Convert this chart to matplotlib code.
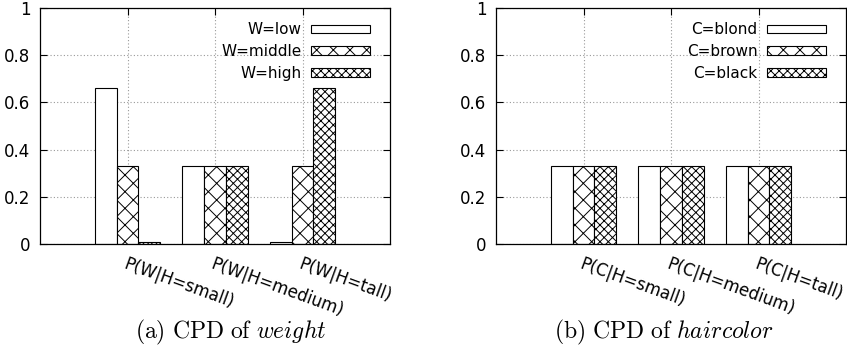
import numpy as np
import matplotlib.pyplot as plt

plt.rcParams['font.family'] = 'DejaVu Sans'
plt.rcParams['mathtext.fontset'] = 'cm'
plt.rcParams['hatch.linewidth'] = 0.7

# data
w_groups = ['P(W|H=small)', 'P(W|H=medium)', 'P(W|H=tall)']
w_labels = ['W=low', 'W=middle', 'W=high']
w_low = [0.66, 0.33, 0.01]
w_middle = [0.33, 0.33, 0.33]
w_high = [0.01, 0.33, 0.66]

c_groups = ['P(C|H=small)', 'P(C|H=medium)', 'P(C|H=tall)']
c_labels = ['C=blond', 'C=brown', 'C=black']
c_blond = [0.33, 0.33, 0.33]
c_brown = [0.33, 0.33, 0.33]
c_black = [0.33, 0.33, 0.33]

yticks = [0, 0.2, 0.4, 0.6, 0.8, 1]
ytick_labels = ['0', '0.2', '0.4', '0.6', '0.8', '1']

hatches = ['', 'xx', 'xxxx']


def draw_panel(ax, groups, labels, series):
    x = np.arange(len(groups))
    width = 0.25
    for i, (vals, lab) in enumerate(zip(series, labels)):
        ax.bar(x + (i - 1) * width, vals, width, label=lab, color='white',
               edgecolor='black', hatch=hatches[i], linewidth=0.8, zorder=2)
    ax.set_xlim(-1, 3)
    ax.set_ylim(0, 1)
    ax.set_yticks(yticks)
    ax.set_yticklabels(ytick_labels)
    ax.set_xticks(x)
    ax.set_xticklabels(groups, rotation=-20, ha='left', va='top',
                       rotation_mode='anchor')
    ax.tick_params(direction='in', top=True, right=True, length=5,
                   width=0.8, labelsize=12)
    ax.tick_params(axis='y', pad=7)
    ax.tick_params(axis='x', pad=8)
    ax.grid(True, linestyle=(0, (1, 2)), color='#999999', linewidth=0.8,
            zorder=0)
    ax.set_axisbelow(True)
    for s in ax.spines.values():
        s.set_linewidth(0.9)
    ax.legend(loc='upper right', bbox_to_anchor=(0.943, 0.94),
              markerfirst=False, frameon=False, fontsize=11,
              handlelength=3.85, handleheight=0.45, handletextpad=0.65,
              labelspacing=0.45, borderpad=0, borderaxespad=0)


fig = plt.figure(figsize=(8.47, 3.54), dpi=100)
ax1 = fig.add_axes([40 / 847, 110 / 354, 350 / 847, 236 / 354])
ax2 = fig.add_axes([496 / 847, 110 / 354, 350 / 847, 236 / 354])

draw_panel(ax1, w_groups, w_labels, [w_low, w_middle, w_high])
draw_panel(ax2, c_groups, c_labels, [c_blond, c_brown, c_black])

fig.text(231 / 847, 1 - 332 / 354, r'$\mathrm{(a)\ CPD\ of\ }\mathit{weight}$',
         ha='center', va='center', fontsize=17)
fig.text(664 / 847, 1 - 332 / 354, r'$\mathrm{(b)\ CPD\ of\ }\mathit{haircolor}$',
         ha='center', va='center', fontsize=17)

fig.savefig('out.png', dpi=100)
